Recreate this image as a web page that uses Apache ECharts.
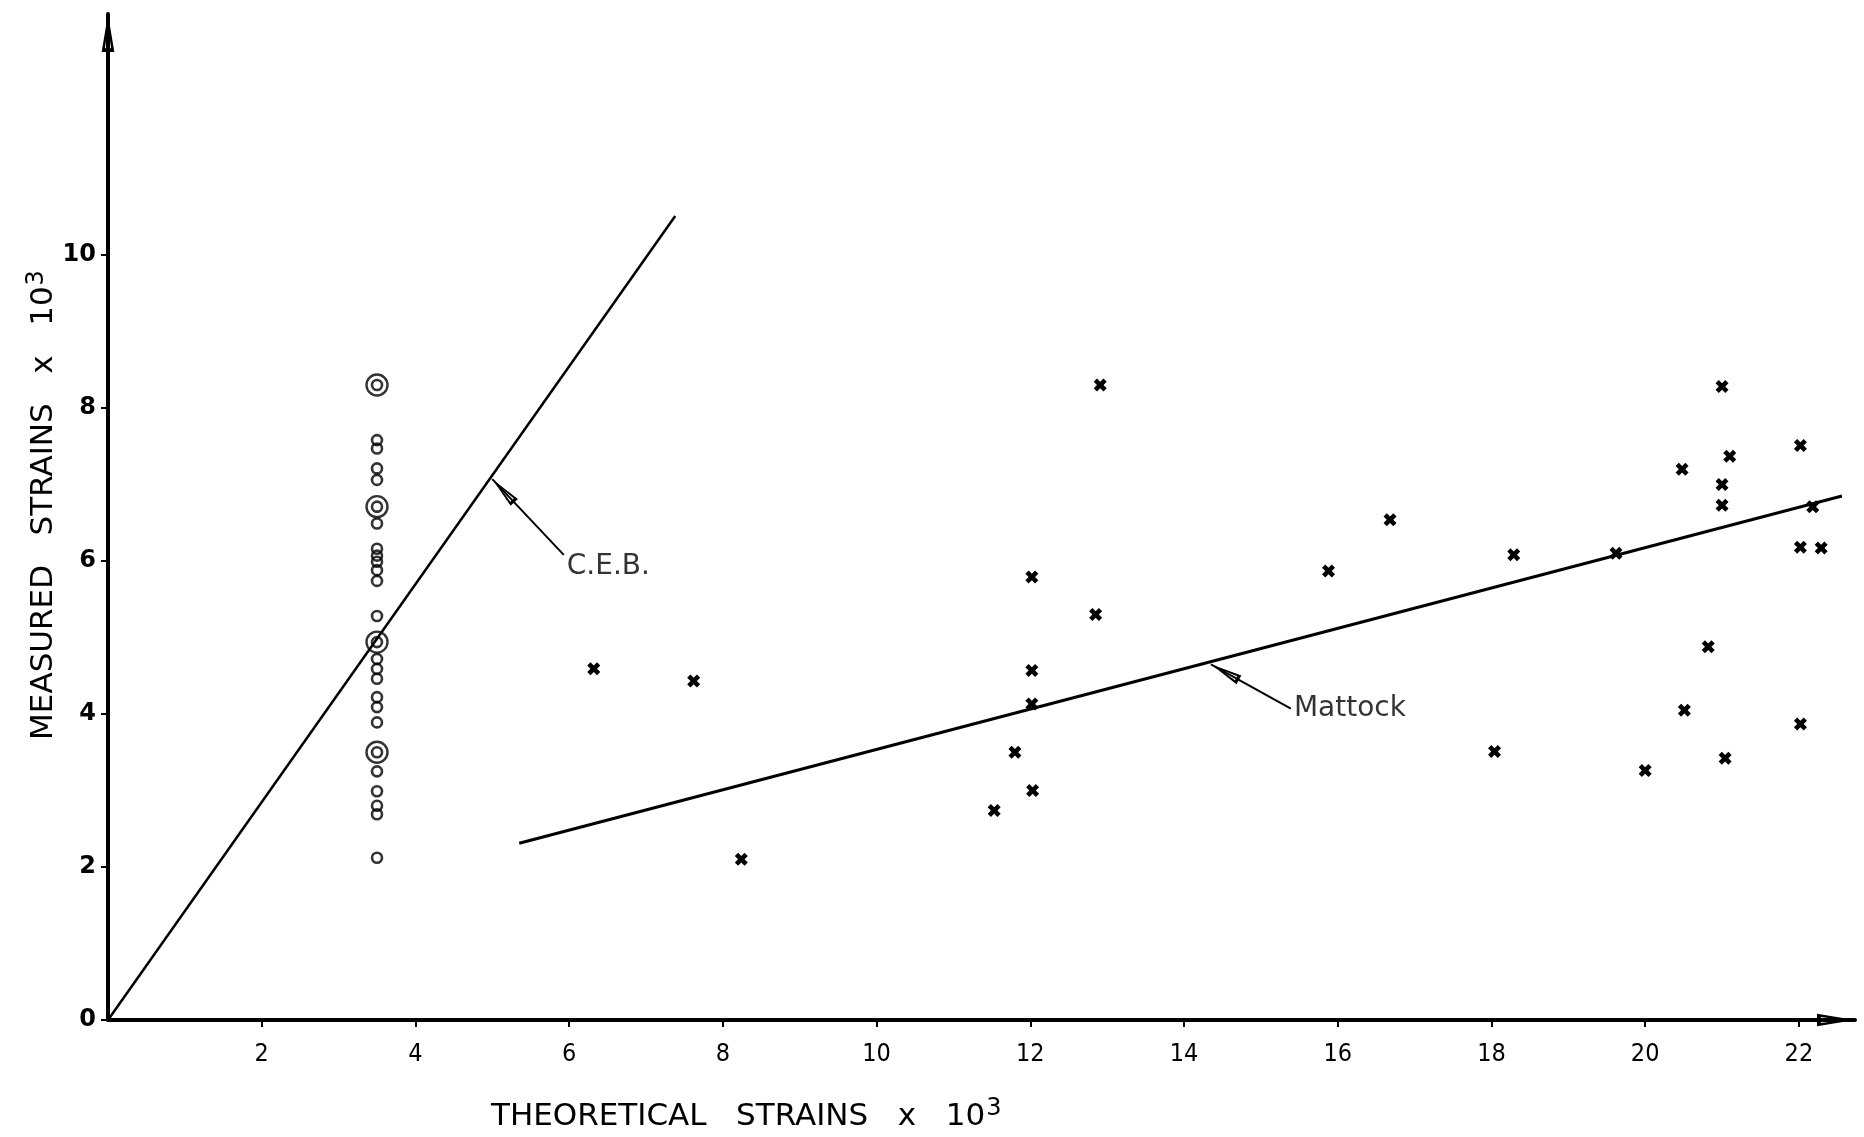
<!DOCTYPE html>
<html>
<head>
<meta charset="utf-8">
<title>Measured vs theoretical strains</title>
<script src="https://cdn.jsdelivr.net/npm/echarts@6/dist/echarts.min.js"></script>
<style>
  html, body { margin: 0; padding: 0; background: #fff; }
  #chart { width: 1864px; height: 1137px; }
</style>
</head>
<body>
<div id="chart"></div>
<script>
// tick labels
const xTicks = [2, 4, 6, 8, 10, 12, 14, 16, 18, 20, 22];
const yTicks = [0, 2, 4, 6, 8, 10];

// circles, all at theoretical strain ~3.5
const circleX = 3.5;
const circleY = [8.30, 7.58, 7.47, 7.21, 7.06, 6.71, 6.49, 6.16, 6.07, 5.99, 5.88, 5.74,
  5.28, 4.94, 4.72, 4.59, 4.46, 4.22, 4.09, 3.89, 3.50, 3.25, 2.99, 2.80, 2.69, 2.12];
// the ones drawn with a second ring
const doubleY = [8.30, 6.71, 4.94, 3.50];

// crosses [theoretical, measured]
const crosses = [
  [6.32, 4.59], [7.62, 4.43], [8.24, 2.10], [11.53, 2.74], [11.80, 3.50], [12.03, 3.00],
  [12.02, 4.13], [12.02, 4.57], [12.02, 5.79], [12.85, 5.30], [12.91, 8.30], [15.88, 5.87],
  [16.68, 6.54], [18.04, 3.51], [18.29, 6.08], [19.62, 6.10], [20.00, 3.26], [20.48, 7.20],
  [20.51, 4.05], [20.82, 4.88], [21.00, 8.28], [21.00, 7.00], [21.00, 6.73], [21.04, 3.42],
  [21.10, 7.37], [22.02, 7.51], [22.02, 6.18], [22.02, 3.87], [22.18, 6.71], [22.29, 6.17]
];

// design lines
const cebLine = [[0, 0], [7.38, 10.51]];
const mattockLine = [[5.35, 2.31], [22.56, 6.85]];

// pointers: [tail, tip]
const cebPointer = [[5.93, 6.08], [5.0, 7.07]];
const mattockPointer = [[15.39, 4.07], [14.35, 4.65]];
const notes = [
  { name: 'C.E.B.', value: [5.93, 6.08] },
  { name: 'Mattock', value: [15.39, 4.07] }
];

// hollow arrow head, hole cut by reverse winding
const arrowPath = 'path://M5,0 L10,30 L0,30 Z M5,9 L2.6,27 L7.4,27 Z';
const crossPath = 'path://M0,2.5 L2.5,0 L5,2.5 L7.5,0 L10,2.5 L7.5,5 L10,7.5 L7.5,10 L5,7.5 L2.5,10 L0,7.5 L2.5,5 Z';

const chart = echarts.init(document.getElementById('chart'));

function pointer(p) {
  return {
    silent: true,
    animation: false,
    lineStyle: { color: '#000', width: 2, type: 'solid' },
    label: { show: false },
    data: [[
      { coord: p[0], symbol: 'none' },
      { coord: p[1], symbol: arrowPath, symbolSize: [10, 32], symbolOffset: [0, 16] }
    ]]
  };
}

const titleRich = {
  a: { fontSize: 31, fontFamily: 'DejaVu Sans', fill: '#000', verticalAlign: 'bottom' },
  s: { fontSize: 24, fontFamily: 'DejaVu Sans', fill: '#000', verticalAlign: 'bottom', padding: [0, 0, 11, 1] }
};

chart.setOption({
  animation: false,
  backgroundColor: '#fff',
  grid: { left: 108, right: 9, top: 14, bottom: 117, outerBoundsMode: 'none' },
  xAxis: {
    type: 'value',
    min: 0,
    max: 22.73,
    splitLine: { show: false },
    axisLine: {
      onZero: false,
      lineStyle: { color: '#000', width: 4 },
      symbol: ['none', arrowPath],
      symbolSize: [13, 38],
      symbolOffset: [0, -19]
    },
    axisTick: { show: true, length: 7, lineStyle: { color: '#000', width: 2 }, customValues: xTicks },
    axisLabel: {
      customValues: xTicks,
      margin: 22,
      color: '#000',
      fontSize: 25,
      fontFamily: 'DejaVu Sans Condensed'
    }
  },
  yAxis: {
    type: 'value',
    min: 0,
    max: 13.15,
    splitLine: { show: false },
    axisLine: {
      onZero: false,
      lineStyle: { color: '#000', width: 4 },
      symbol: ['none', arrowPath],
      symbolSize: [13, 38],
      symbolOffset: [0, -19]
    },
    axisTick: { show: true, length: 7, lineStyle: { color: '#000', width: 2 }, customValues: yTicks },
    axisLabel: {
      customValues: yTicks,
      margin: 12,
      color: '#000',
      fontSize: 24,
      fontWeight: 'bold',
      fontFamily: 'DejaVu Sans'
    }
  },
  graphic: [
    {
      type: 'text',
      left: 491,
      top: 1097,
      style: {
        text: '{a|THEORETICAL   STRAINS   x   10}{s|3}',
        rich: titleRich
      }
    },
    {
      type: 'text',
      x: 42,
      y: 505,
      rotation: Math.PI / 2,
      style: {
        text: '{a|MEASURED   STRAINS   x   10}{s|3}',
        align: 'center',
        verticalAlign: 'middle',
        rich: titleRich
      }
    }
  ],
  series: [
    {
      name: 'C.E.B.',
      type: 'line',
      data: cebLine,
      symbol: 'none',
      clip: false,
      lineStyle: { color: '#000', width: 2.5 },
      markLine: pointer(cebPointer)
    },
    {
      name: 'Mattock',
      type: 'line',
      data: mattockLine,
      symbol: 'none',
      clip: false,
      lineStyle: { color: '#000', width: 3 },
      markLine: pointer(mattockPointer)
    },
    {
      // outer rings of double circles
      type: 'scatter',
      data: doubleY.map(y => [circleX, y]),
      symbol: 'circle',
      symbolSize: 21,
      itemStyle: { color: 'rgba(0,0,0,0)', borderColor: '#000', borderWidth: 2.4 }
    },
    {
      type: 'scatter',
      data: circleY.map(y => [circleX, y]),
      symbol: 'circle',
      symbolSize: 10,
      itemStyle: { color: 'rgba(0,0,0,0)', borderColor: '#000', borderWidth: 2.6 }
    },
    {
      type: 'scatter',
      data: crosses,
      symbol: crossPath,
      symbolSize: 13,
      itemStyle: { color: '#000', opacity: 1 }
    },
    {
      // pointer texts
      type: 'scatter',
      data: notes,
      symbolSize: 0.1,
      itemStyle: { color: 'rgba(0,0,0,0)' },
      label: {
        show: true,
        position: 'right',
        distance: 3,
        formatter: '{b}',
        color: '#000',
        fontSize: 28,
        fontFamily: 'DejaVu Sans'
      },
      labelLayout: function (p) {
        return p.dataIndex === 0 ? { dy: 12 } : {};
      }
    }
  ]
});
</script>
</body>
</html>
